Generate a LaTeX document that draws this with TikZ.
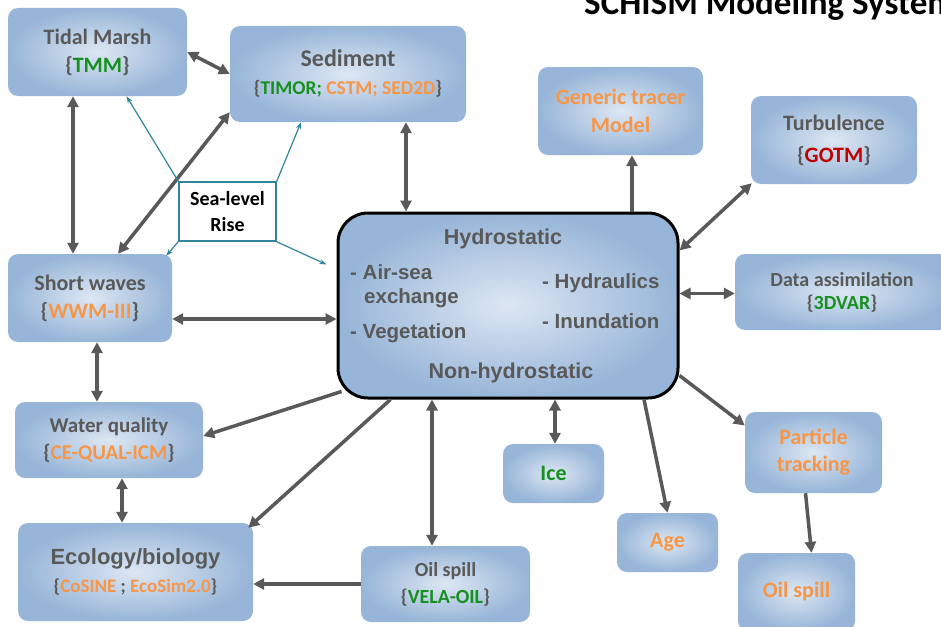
\documentclass[tikz,border=0pt]{standalone}
\usepackage{fontspec}
\setmainfont{Carlito}
\newfontfamily\arialf{Liberation Sans}
\usetikzlibrary{arrows.meta,calc}
\definecolor{boxin}{HTML}{DDE7F3}
\definecolor{boxout}{HTML}{97B5D8}
\definecolor{txtgray}{HTML}{595959}
\definecolor{orng}{HTML}{F79646}
\definecolor{grn}{HTML}{17901F}
\definecolor{redd}{HTML}{C00000}
\definecolor{slrteal}{HTML}{31849B}
\definecolor{arrgray}{HTML}{595959}
\newcommand{\og}[1]{\textcolor{orng}{#1}}
\newcommand{\gr}[1]{\textcolor{grn}{#1}}
\tikzset{
  modbox/.style={rounded corners=10pt, shading=radial, inner color=boxin, outer color=boxout,
    align=center, text=txtgray, font=\bfseries\fontsize{22}{28}\selectfont},
  hydrotext/.style={text=txtgray, font=\arialf\bfseries\fontsize{20.5}{24}\selectfont, inner sep=0pt},
  linkarrow/.style={draw=arrgray, line width=3.5pt, -{Triangle[length=11pt,width=11pt]}},
  bothway/.style={linkarrow, {Triangle[length=11pt,width=11pt]}-{Triangle[length=11pt,width=11pt]}},
  risearrow/.style={draw=slrteal, line width=1.2pt, -{Stealth[length=7pt,width=5pt]}},
}
\begin{document}
\begin{tikzpicture}[x=1pt, y=-1pt]
      \useasboundingbox (0,0) rectangle (941,626);
      % Title (cut by the page edge, as in the slide)
      \node[anchor=base west, inner sep=0pt, font=\bfseries\fontsize{35}{40}\selectfont] (title) at (584,15) {SCHISM Modeling System};
      % Central model box
      \node[draw=black, line width=3pt, rounded corners=30pt, shading=radial, inner color=boxin, outer color=boxout,
        minimum width=340pt, minimum height=185pt] (hydro) at (508,305.5) {};
      \node[hydrotext, font=\arialf\bfseries\fontsize{21.5}{24}\selectfont, anchor=base] (hyd) at (503,244) {Hydrostatic};
      \node[hydrotext, anchor=base west] (airsea) at (350,279) {- Air-sea};
      \node[hydrotext, anchor=base west] (exch) at (364,303) {exchange};
      \node[hydrotext, anchor=base west] (veget) at (350,338) {- Vegetation};
      \node[hydrotext, anchor=base west] (hydraul) at (542,288) {- Hydraulics};
      \node[hydrotext, anchor=base west] (inund) at (542,328) {- Inundation};
      \node[hydrotext, font=\arialf\bfseries\fontsize{21.5}{24}\selectfont, anchor=base] (nonhyd) at (511,378) {Non-hydrostatic};
      % Module boxes
      \node[modbox, minimum width=179pt, minimum height=88pt] (tidal) at (97.5,52) {Tidal Marsh\\\{\gr{TMM}\}};
      \node[modbox, minimum width=236pt, minimum height=96pt] (sediment) at (348,74)
        {{\fontsize{24}{26}\selectfont Sediment}\\{\fontsize{19.5}{22}\selectfont\{\gr{TIMOR;} \og{CSTM; SED2D}\}}};
      \node[modbox, minimum width=165pt, minimum height=88pt, text=orng] (tracer) at (620.5,111) {Generic tracer\\Model};
      \node[modbox, minimum width=166pt, minimum height=88pt, font=\bfseries\fontsize{22}{32}\selectfont] (turb) at (834,140) {Turbulence\\\{\textcolor{redd}{GOTM}\}};
      \node[modbox, minimum width=164pt, minimum height=88pt] (waves) at (90,298) {Short waves\\\{\og{WWM-III}\}};
      \node[modbox, minimum width=214pt, minimum height=76pt, font=\bfseries\fontsize{20}{23}\selectfont] (data) at (842,292) {Data assimilation\\\{\gr{3DVAR}\}};
      \node[modbox, minimum width=188pt, minimum height=76pt, font=\bfseries\fontsize{21}{27}\selectfont] (wq) at (109,440) {Water quality\\\{\og{CE-QUAL-ICM}\}};
      \node[modbox, minimum width=101pt, minimum height=59pt, text=grn] (ice) at (553.5,473.5) {Ice};
      \node[modbox, minimum width=137pt, minimum height=81pt, text=orng, font=\bfseries\fontsize{22}{27}\selectfont] (particle) at (813.5,452.5) {Particle\\tracking};
      \node[modbox, minimum width=101pt, minimum height=59pt, text=orng] (age) at (667.5,542.5) {Age};
      \node[modbox, minimum width=235pt, minimum height=98pt] (eco) at (135.5,572)
        {{\arialf\fontsize{22}{25}\selectfont Ecology/biology}\\{\fontsize{19}{22}\selectfont\{\og{CoSINE} ; \og{EcoSim2.0}\}}};
      \node[modbox, minimum width=169pt, minimum height=76pt, font=\bfseries\fontsize{20}{27}\selectfont] (oil) at (445.5,584) {Oil spill\\\{\gr{VELA-OIL}\}};
      \node[modbox, minimum width=117pt, minimum height=78pt, text=orng] (oiltwo) at (796.5,592) {Oil spill};
      % Sea-level rise box
      \node[draw=slrteal, line width=1.5pt, fill=white, minimum width=97pt, minimum height=59pt, align=center,
        font=\bfseries\fontsize{20}{26}\selectfont] (slr) at (227.5,211.5) {Sea-level\\Rise};
      % Two-way links
      \draw[bothway] (tidal.east) -- (sediment.west);
      \draw[bothway] ([xshift=-24.5pt]tidal.south) -- ([xshift=-17pt]waves.north);
      \draw[bothway] ([yshift=10pt]sediment.south west) -- ([xshift=28pt]waves.north);
      \draw[bothway] ([xshift=58pt]sediment.south) coordinate (sd) -- (sd |- hydro.north);
      \draw[bothway] ([yshift=-21pt]waves.east) coordinate (sw) -- (sw -| hydro.west);
      \draw[bothway] ([xshift=7pt]waves.south) coordinate (sw2) -- (sw2 |- wq.north);
      \draw[bothway] ([xshift=13pt]wq.south) coordinate (wq1) -- (wq1 |- eco.north);
      \draw[bothway] ([xshift=-76pt]hydro.south) coordinate (h1) -- (h1 |- oil.north);
      \draw[bothway] ([xshift=47pt]hydro.south) coordinate (h2) -- (h2 |- ice.north);
      \draw[bothway] ([yshift=12pt]hydro.east) coordinate (h3) -- (h3 -| data.west);
      \draw[bothway] ([yshift=55pt]hydro.east) -- ([xshift=1pt,yshift=1pt]turb.south west);
      % One-way links
      \draw[linkarrow] ([xshift=5pt,yshift=8pt]hydro.south west) -- ([yshift=4pt]wq.east);
      \draw[linkarrow] ([xshift=54pt]hydro.south west) -- ([xshift=-5pt,yshift=-5pt]eco.north east);
      \draw[linkarrow] (oil.west) -- (oil.west -| eco.east);
      \draw[linkarrow] ([xshift=136pt]hydro.south) -- (age.north);
      \draw[linkarrow] ([yshift=-70pt]hydro.east) -- ([yshift=27pt]particle.west);
      \draw[linkarrow] ([xshift=-8pt]particle.south) -- ([xshift=15pt]oiltwo.north);
      \draw[linkarrow] ([xshift=124pt]hydro.north) coordinate (h4) -- (h4 |- tracer.south);
      % Sea-level rise links
      \draw[risearrow] (slr.north west) -- ([xshift=29pt]tidal.south);
      \draw[risearrow] (slr.north east) -- ([xshift=-47pt]sediment.south);
      \draw[risearrow] (slr.south west) -- ([xshift=-6pt,yshift=-2pt]waves.north east);
      \draw[risearrow] (slr.south east) -- ([xshift=-10pt,yshift=41pt]hydro.west);
\end{tikzpicture}
\end{document}
